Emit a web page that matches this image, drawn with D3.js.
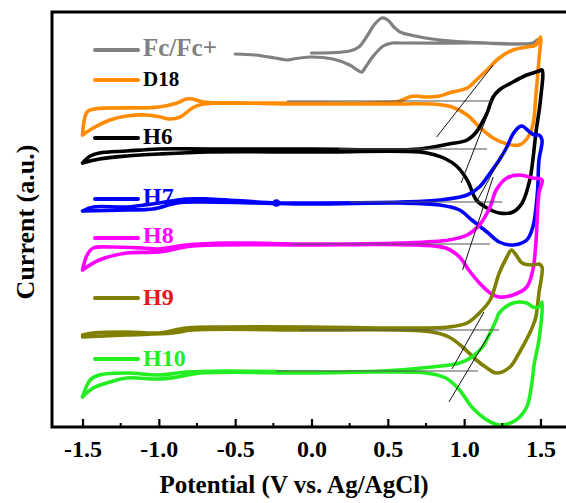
<!DOCTYPE html>
<html><head><meta charset="utf-8">
<script src="https://cdn.jsdelivr.net/npm/d3@7"></script>
<style>
html,body{margin:0;padding:0;background:#fff;}
svg{display:block;}
text{font-family:"Liberation Serif","Times New Roman",serif;font-weight:bold;}
</style></head><body>
<svg id="chart" width="566" height="503"></svg>
<script>
// Potential axis ticks (V vs. Ag/AgCl)
const majorTicks = [-1.5, -1.0, -0.5, 0.0, 0.5, 1.0, 1.5];
const minorTicks = [-1.25, -0.75, -0.25, 0.25, 0.75, 1.25];

// Cyclic voltammograms, [potential V, current a.u. incl. vertical offset]
const fcPath = [
  [0.00,37.4],[0.25,37.6],[0.31,38.0],[0.36,39.0],[0.41,40.2],[0.46,40.9],[0.50,40.7],
  [0.54,40.0],[0.58,39.5],[0.68,39.1],[0.79,38.8],[1.02,38.5],[1.45,38.4],[1.49,38.8],
  [1.50,38.5],[1.04,38.4],[0.58,38.4],[0.53,38.4],[0.47,38.1],[0.40,37.0],[0.35,35.9],
  [0.33,35.5],[0.30,35.7],[0.25,36.2],[0.14,36.8],[-0.01,37.0],[-0.12,36.8],[-0.16,36.7],
  [-0.24,36.9],[-0.37,37.2],[-0.50,37.3]
];
const d18Path = [
  [-1.50,29.2],[-1.47,31.5],[-1.42,31.8],[-1.32,31.9],[-1.00,32.0],[-0.88,32.4],[-0.82,32.8],
  [-0.78,32.8],[-0.71,32.5],[-0.56,32.4],[-0.08,32.4],[0.36,32.4],[0.58,32.6],[0.64,33.0],
  [0.69,33.1],[0.74,33.0],[0.84,33.1],[0.90,33.4],[1.02,33.9],[1.08,34.7],[1.15,35.7],
  [1.23,36.9],[1.32,37.7],[1.41,38.0],[1.47,38.2],[1.50,39.0],
  [1.49,36.7],[1.47,33.2],[1.45,30.2],[1.41,28.8],[1.36,28.2],[1.28,28.3],[1.19,28.9],
  [1.10,30.0],[1.02,31.2],[0.92,32.0],[0.79,32.3],[0.58,32.3],[-0.08,32.3],[-0.71,32.3],
  [-0.78,31.9],[-0.86,31.0],[-0.93,30.8],[-0.99,31.0],[-1.08,31.2],[-1.21,31.1],[-1.32,30.7],
  [-1.43,29.9],[-1.50,29.2]
];
const h6Path = [
  [-1.50,26.4],[-1.45,27.1],[-1.39,27.4],[-1.21,27.6],[-1.00,27.8],[-0.67,27.8],[-0.01,27.8],
  [0.71,27.8],[0.90,28.3],[1.02,28.7],[1.08,29.5],[1.12,30.5],[1.15,31.4],[1.19,33.0],
  [1.23,33.7],[1.32,34.5],[1.41,35.2],[1.49,35.6],[1.51,35.7],
  [1.50,32.7],[1.47,29.4],[1.45,26.7],[1.43,24.7],[1.38,22.4],[1.32,21.5],[1.23,21.4],
  [1.15,21.9],[1.08,22.7],[1.02,24.7],[0.95,26.1],[0.88,26.8],[0.81,27.2],[0.71,27.5],
  [-0.01,27.5],[-0.67,27.5],[-1.00,27.3],[-1.21,27.1],[-1.39,26.8],[-1.50,26.4]
];
const h7Path = [
  [-1.50,21.6],[-1.43,22.0],[-1.21,22.0],[-1.00,22.4],[-0.82,22.8],[-0.67,22.8],[-0.23,22.4],
  [-0.01,22.4],[0.58,22.5],[0.84,22.7],[1.02,23.2],[1.10,24.0],[1.17,25.4],[1.23,26.7],
  [1.28,28.0],[1.32,29.3],[1.36,30.0],[1.38,30.1],[1.43,29.5],[1.46,29.2],[1.49,29.2],[1.51,28.7],
  [1.49,26.7],[1.48,23.4],[1.45,20.0],[1.41,18.7],[1.32,18.2],[1.23,18.5],[1.15,19.5],
  [1.05,20.7],[0.97,21.7],[0.84,22.2],[0.58,22.4],[-0.01,22.3],[-0.73,22.5],[-0.88,22.4],
  [-1.04,21.8],[-1.21,21.7],[-1.50,21.6]
];
const h7Dot = [[-0.23,22.4]];
const h8Path = [
  [-1.50,15.7],[-1.47,17.2],[-1.43,17.9],[-1.32,18.0],[-1.11,17.9],[-1.00,17.8],[-0.82,18.2],
  [-0.56,18.4],[-0.01,18.3],[0.58,18.4],[0.90,18.7],[1.02,19.2],[1.10,20.2],[1.17,22.0],
  [1.21,23.7],[1.28,24.9],[1.36,25.2],[1.45,24.9],[1.51,24.7],
  [1.49,23.4],[1.47,18.4],[1.45,15.7],[1.41,14.0],[1.32,13.2],[1.23,13.0],[1.17,13.4],
  [1.10,14.4],[1.03,15.7],[0.97,17.0],[0.88,17.9],[0.69,18.2],[-0.01,18.2],[-0.78,18.1],
  [-1.00,17.5],[-1.21,17.4],[-1.39,16.7],[-1.50,15.7]
];
const h9Path = [
  [-1.50,9.2],[-1.43,9.4],[-1.21,9.5],[-1.00,9.4],[-0.82,9.9],[-0.56,10.0],[-0.01,10.0],
  [0.58,9.9],[0.90,10.0],[1.02,10.4],[1.10,11.4],[1.17,12.7],[1.23,15.4],[1.28,17.0],
  [1.31,17.7],[1.34,17.2],[1.38,16.4],[1.45,16.2],[1.49,16.3],[1.51,16.0],
  [1.49,13.4],[1.47,11.0],[1.46,10.5],[1.43,9.4],[1.36,7.4],[1.30,6.0],[1.21,5.4],
  [1.15,5.9],[1.08,6.7],[0.99,8.0],[0.90,9.0],[0.79,9.5],[0.58,9.7],[-0.01,9.7],
  [-0.78,9.7],[-0.91,9.4],[-1.21,9.2],[-1.50,9.0]
];
const h10Path = [
  [-1.50,3.0],[-1.45,4.7],[-1.39,5.2],[-1.21,5.4],[-1.00,5.2],[-0.82,5.5],[-0.56,5.6],
  [-0.01,5.5],[0.46,5.6],[0.79,6.0],[0.97,6.4],[1.05,7.0],[1.12,8.0],[1.17,9.4],
  [1.21,10.7],[1.23,11.4],[1.32,12.4],[1.41,12.4],[1.45,12.0],[1.49,12.0],[1.51,12.5],
  [1.49,8.7],[1.46,6.4],[1.44,4.0],[1.41,2.0],[1.34,0.7],[1.23,0.2],[1.15,0.7],
  [1.05,2.0],[0.97,3.7],[0.88,4.9],[0.75,5.4],[0.46,5.5],[-0.01,5.4],[-0.73,5.4],
  [-0.88,5.0],[-1.00,4.8],[-1.21,4.9],[-1.32,4.5],[-1.43,3.9],[-1.50,3.0]
];

// Onset construction lines: baseline [V from, V to, current] and tangent [V1, I1, V2, I2]
const baselines = [
  [-0.16,1.18,32.6],[0.18,1.15,27.8],[0.25,1.25,22.5],[-0.14,1.17,18.3],[-0.08,1.23,9.7],[-0.23,1.09,5.6]
];
const tangents = [
  [0.82,29.0,1.19,36.2],[0.98,24.4,1.17,31.9],[1.08,22.5,1.28,28.0],[0.99,15.7,1.19,25.0],
  [0.92,5.8,1.13,11.5],[0.90,2.5,1.17,9.4]
];

const seriesNames  = ["Fc/Fc+", "D18", "H6", "H7", "H8", "H9", "H10"];
const seriesColors = ["#808080", "#ff8c00", "#000000", "#0000ff", "#ff00ff", "#808000", "#22ee22"];
const labelColors  = ["#808080", "#000000", "#000000", "#0000ff", "#ff00ff", "#e8161c", "#22ee22"];
const seriesData   = [fcPath, d18Path, h6Path, h7Path, h8Path, h9Path, h10Path];

const svg = d3.select("#chart");
const W = 566, H = 503;
const plotLeft = 52, plotTop = 12, plotBottom = 427, plotRight = 571;

const x = d3.scaleLinear().domain([-1.7, 1.7]).range([plotLeft, plotRight]);
const y = d3.scaleLinear().domain([0, 41.5]).range([plotBottom, plotTop]);

svg.append("rect").attr("width", W).attr("height", H).attr("fill", "#fff");

const line = d3.line()
  .x(d => x(d[0])).y(d => y(d[1]))
  .curve(d3.curveCatmullRom.alpha(0.5));

const plot = svg.append("g");

// voltammogram traces
seriesData.forEach((data, i) => {
  plot.append("path")
    .attr("d", line(data))
    .attr("fill", "none")
    .attr("stroke", seriesColors[i])
    .attr("stroke-width", i === 0 ? 3.2 : 3.6)
    .attr("stroke-linejoin", "round")
    .attr("stroke-linecap", "round");
});

plot.selectAll("circle.dot").data(h7Dot).join("circle")
  .attr("cx", d => x(d[0])).attr("cy", d => y(d[1]))
  .attr("r", 3.8).attr("fill", seriesColors[3]);

// onset construction lines
plot.selectAll("line.base").data(baselines).join("line")
  .attr("x1", d => x(d[0])).attr("x2", d => x(d[1]))
  .attr("y1", d => y(d[2])).attr("y2", d => y(d[2]))
  .attr("stroke", "#555").attr("stroke-width", 1.2);

plot.selectAll("line.tan").data(tangents).join("line")
  .attr("x1", d => x(d[0])).attr("y1", d => y(d[1]))
  .attr("x2", d => x(d[2])).attr("y2", d => y(d[3]))
  .attr("stroke", "#111").attr("stroke-width", 1);

// axis with inward ticks
const xAxis = d3.axisBottom(x)
  .tickValues(majorTicks)
  .tickFormat(d => d.toFixed(1))
  .tickSizeInner(-8).tickSizeOuter(0).tickPadding(13);

const gx = svg.append("g").attr("transform", `translate(0,${plotBottom})`).call(xAxis);
gx.select(".domain").remove();
gx.selectAll(".tick line").attr("stroke", "#000").attr("stroke-width", 2.2);
gx.selectAll(".tick text")
  .attr("font-size", 24)
  .attr("font-family", "'Liberation Serif','Times New Roman',serif")
  .attr("font-weight", "bold")
  .attr("fill", "#000");

svg.append("g").selectAll("line").data(minorTicks).join("line")
  .attr("x1", d => x(d)).attr("x2", d => x(d))
  .attr("y1", plotBottom).attr("y2", plotBottom - 4)
  .attr("stroke", "#000").attr("stroke-width", 2);

// frame (right side runs past the visible area)
svg.append("path")
  .attr("d", `M${plotRight},${plotTop}H${plotLeft}V${plotBottom}H${plotRight}`)
  .attr("fill", "none").attr("stroke", "#000").attr("stroke-width", 3);

// axis titles
svg.append("text")
  .attr("x", 294).attr("y", 493)
  .attr("text-anchor", "middle").attr("font-size", 25)
  .text("Potential (V vs. Ag/AgCl)");

svg.append("text")
  .attr("transform", "translate(34,222) rotate(-90)")
  .attr("text-anchor", "middle").attr("font-size", 26)
  .text("Current (a.u.)");

// legend
const legendRows = [
  {lineY: 50, textY: 56, size: 25},
  {lineY: 80, textY: 86, size: 21},
  {lineY: 138, textY: 144, size: 23},
  {lineY: 199, textY: 204, size: 24},
  {lineY: 238, textY: 243, size: 24},
  {lineY: 298, textY: 305, size: 24},
  {lineY: 359, textY: 366, size: 24}
];
const legend = svg.append("g");
seriesNames.forEach((name, i) => {
  const r = legendRows[i];
  legend.append("line")
    .attr("x1", 95).attr("x2", 138).attr("y1", r.lineY).attr("y2", r.lineY)
    .attr("stroke", seriesColors[i]).attr("stroke-width", 4).attr("stroke-linecap", "round");
  legend.append("text")
    .attr("x", 143).attr("y", r.textY)
    .attr("font-size", r.size).attr("fill", labelColors[i])
    .text(name);
});
</script></body></html>
